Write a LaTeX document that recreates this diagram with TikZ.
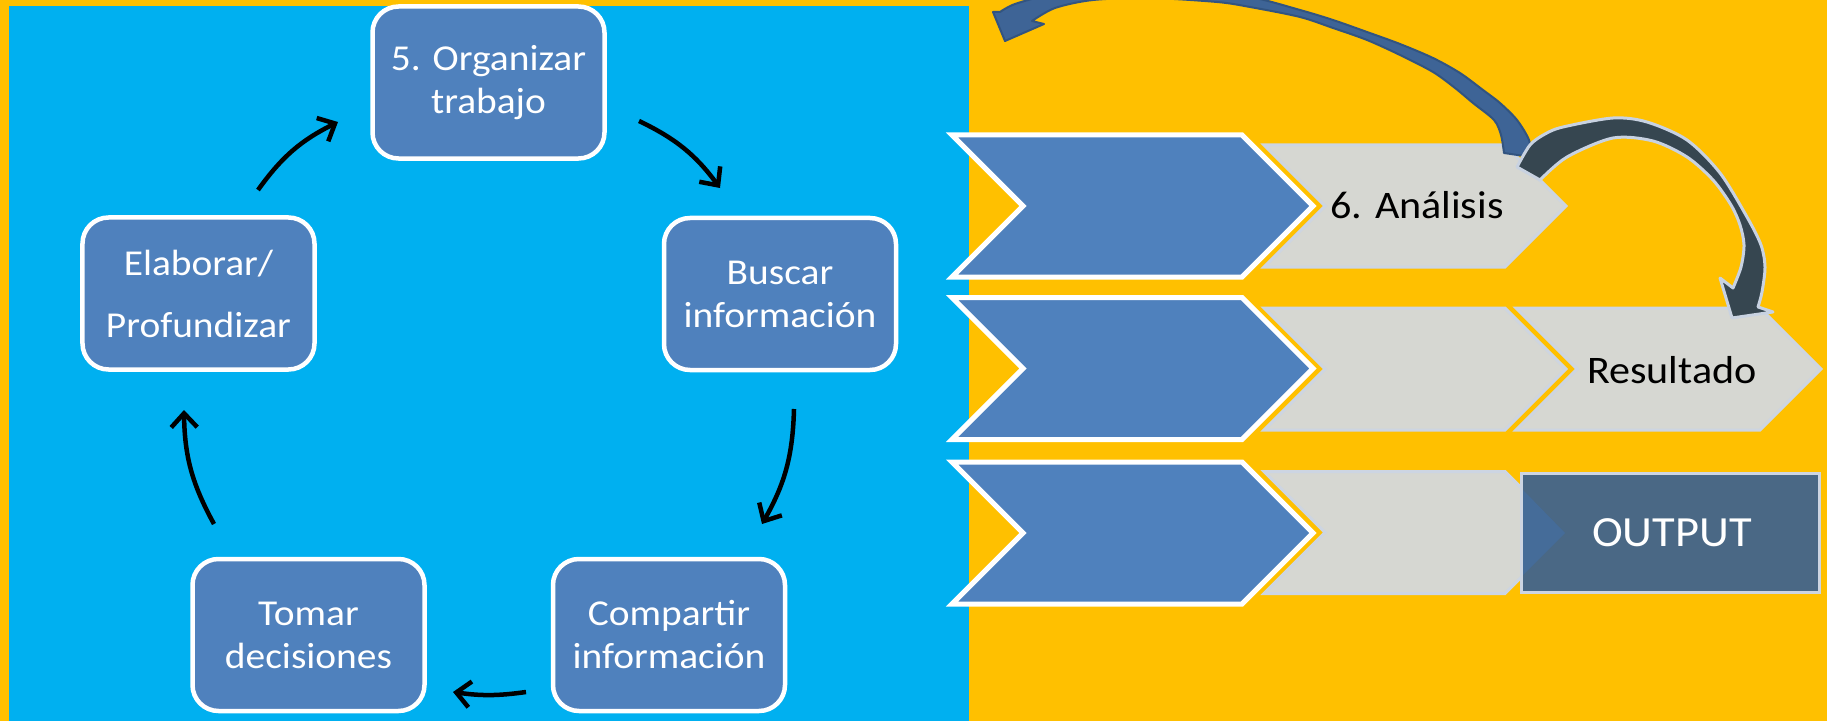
\documentclass[tikz,border=0pt]{standalone}
\usepackage{fontspec}
\setmainfont{Carlito}[FakeStretch=1.08]
\usetikzlibrary{arrows.meta}
\definecolor{bgyellow}{RGB}{255,192,0}
\definecolor{bgblue}{RGB}{0,176,240}
\definecolor{boxblue}{RGB}{79,129,189}
\definecolor{chgrey}{RGB}{214,215,210}
\definecolor{chline}{RGB}{205,213,226}
\definecolor{outfill}{RGB}{74,104,133}
\definecolor{outtri}{RGB}{69,108,153}
\definecolor{arrAfill}{RGB}{62,100,150}
\definecolor{arrAline}{RGB}{50,84,128}
\definecolor{arrBfill}{RGB}{54,70,80}
\definecolor{arrBline}{RGB}{200,210,225}
\begin{document}
\begin{tikzpicture}[x=1bp,y=-1bp,
  stepbox/.style={draw=white, line width=4.5bp, fill=boxblue, rounded corners=26bp,
    minimum width=232bp, minimum height=152bp, inner sep=0pt, align=center,
    text=white, font=\fontsize{36.5bp}{43bp}\selectfont},
  cyc/.style={line width=4.5bp, black, -{Straight Barb[length=14bp,width=26bp]}},
  bluechev/.style={draw=white, line width=5bp, fill=boxblue, line join=miter},
  greychev/.style={draw=chline, line width=3bp, fill=chgrey, line join=miter},
  chevtext/.style={font=\fontsize{39bp}{46bp}\selectfont, text=black, inner sep=0pt},
  blockA/.style={fill=arrAfill, draw=arrAline, line width=2bp, line join=round},
  blockB/.style={fill=arrBfill, draw=arrBline, line width=3bp, line join=round}
]
\useasboundingbox (0,0) rectangle (1827,721);
\clip (0,0) rectangle (1827,721);
% backgrounds
\fill[bgyellow] (0,0) rectangle (1827,721);
\fill[bgblue] (9,6) rectangle (969,721);

% cycle boxes
\node[stepbox] (org) at (488.5,82.5) {5. Organizar\\trabajo};
\node[stepbox] (bus) at (780,294) {Buscar\\información};
\node[stepbox] (com) at (669,635) {Compartir\\información};
\node[stepbox] (tom) at (308.5,635) {Tomar\\decisiones};
\node[stepbox, font=\fontsize{36.5bp}{62bp}\selectfont] (ela) at (198.5,293.5) {Elaborar/\\Profundizar};

% cycle arrow end points
\coordinate (e1) at (258,190); \coordinate (o1) at (338,122);
\coordinate (o2) at (639,121); \coordinate (b1) at (720,188);
\coordinate (b2) at (794,409); \coordinate (c1) at (762,524);
\coordinate (c2) at (526,692); \coordinate (t1) at (453,692);
\coordinate (t2) at (214,524); \coordinate (e2) at (184,410);
\draw[cyc] (e1) to[bend left=14] (o1);
\draw[cyc] (o2) to[bend left=14] (b1);
\draw[cyc] (b2) to[bend left=14] (c1);
\draw[cyc] (c2) to[bend left=8] (t1);
\draw[cyc] (t2) to[bend left=14] (e2);

% grey chevrons
\draw[greychev] (1264,145) -- (1505,145) -- (1566,206) -- (1505,267) -- (1264,267) -- (1325,206) -- cycle;
\draw[greychev] (1264,308) -- (1505,308) -- (1566,369) -- (1505,430) -- (1264,430) -- (1325,369) -- cycle;
\draw[greychev] (1264,471.5) -- (1505,471.5) -- (1566,532.5) -- (1505,593.5) -- (1264,593.5) -- (1325,532.5) -- cycle;
\draw[greychev] (1516,308) -- (1760,308) -- (1821,369) -- (1760,430) -- (1516,430) -- (1577,369) -- cycle;

% blue chevrons
\draw[bluechev] (952,135) -- (1242,135) -- (1313,206) -- (1242,277) -- (952,277) -- (1023,206) -- cycle;
\draw[bluechev] (952,297.5) -- (1242,297.5) -- (1313,368.5) -- (1242,439.5) -- (952,439.5) -- (1023,368.5) -- cycle;
\draw[bluechev] (952,462) -- (1242,462) -- (1313,533) -- (1242,604) -- (952,604) -- (1023,533) -- cycle;

% output box
\draw[fill=outfill, draw=chline, line width=3bp] (1521,473) rectangle (1819,592);
\fill[outtri] (1523,490) -- (1565,533) -- (1523,575) -- cycle;

% texts on the right
\node[chevtext] (t6) at (1417,205) {6. Análisis};
\node[chevtext] (tres) at (1672,370) {Resultado};
\node[chevtext, text=white, font=\fontsize{43bp}{50bp}\selectfont] (tout) at (1672,533) {OUTPUT};

% curved block arrow A (blue)
\draw[blockA] plot[smooth] coordinates {(1531,157) (1529,140) (1517,120) (1500,103) (1483,90) (1460,73) (1433,58) (1400,44) (1367,32) (1333,20) (1300,10) (1250,-3) (1180,-11) (1110,-11) (1050,-5) (1015,4) (1000,12)}
  -- (993,12) -- (1005,41) -- (1044,24) --
  plot[smooth] coordinates {(1032,21) (1055,8) (1093,0) (1150,-2) (1217,2) (1250,7) (1300,17) (1333,28) (1367,40) (1400,55) (1433,72) (1455,88) (1473,103) (1494,120) (1501,135) (1504,153)} -- cycle;

% curved block arrow B (dark)
\draw[blockB] plot[smooth] coordinates {(1517,167) (1530,145) (1545,134) (1563,127) (1613,118) (1647,122) (1687,140) (1720,173) (1747,217) (1761,245) (1765,267) (1762,292) (1758,307)}
  -- (1773,312) -- (1732,318) -- (1720,278) --
  plot[smooth] coordinates {(1733,288) (1741,267) (1744,245) (1740,225) (1731,205) (1713,180) (1687,157) (1653,141) (1613,138) (1567,157) (1540,180)} -- cycle;
\end{tikzpicture}
\end{document}
